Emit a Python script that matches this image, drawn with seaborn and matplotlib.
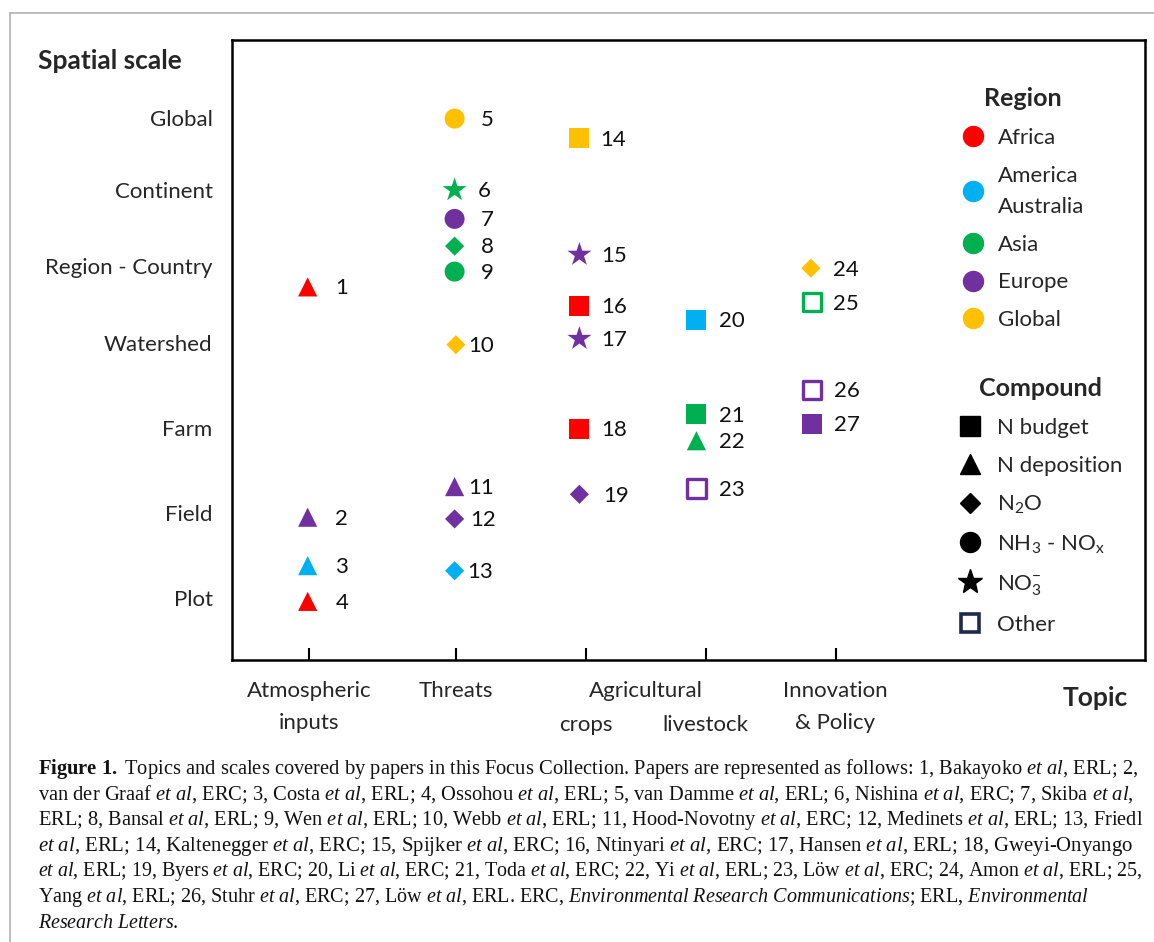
import re
import numpy as np
import pandas as pd
import matplotlib
matplotlib.use("Agg")
import matplotlib.pyplot as plt
import seaborn as sns
from matplotlib.lines import Line2D

sns.set_theme(style="white")
plt.rcParams["font.family"] = ["Lato", "DejaVu Sans"]
plt.rcParams["mathtext.fontset"] = "custom"
plt.rcParams["mathtext.rm"] = "Liberation Serif"
plt.rcParams["mathtext.it"] = "Liberation Serif:italic"
plt.rcParams["mathtext.bf"] = "Liberation Serif:bold"

# ---------------------------------------------------------------
# DATA
# ---------------------------------------------------------------
paper_id = list(range(1, 28))
topic_x = [0.99, 0.99, 0.99, 0.99,
           2.12, 2.12, 2.12, 2.12, 2.12, 2.13, 2.12, 2.12, 2.12,
           3.08, 3.08, 3.08, 3.08, 3.08, 3.08,
           3.98, 3.98, 3.98, 3.98,
           4.86, 4.87, 4.87, 4.87]
scale_y = [4.66, 1.95, 1.38, 0.96,
           6.64, 5.80, 5.46, 5.14, 4.84, 3.98, 2.31, 1.93, 1.32,
           6.41, 5.04, 4.44, 4.05, 2.99, 2.22,
           4.27, 3.16, 2.85, 2.29,
           4.88, 4.48, 3.45, 3.05]
region = ["Africa", "Europe", "America", "Africa",
          "Global", "Asia", "Europe", "Asia", "Asia", "Global", "Europe", "Europe", "America",
          "Global", "Europe", "Africa", "Europe", "Africa", "Europe",
          "America", "Asia", "Asia", "Europe",
          "Global", "Asia", "Europe", "Europe"]
compound = ["N deposition", "N deposition", "N deposition", "N deposition",
            "NH3-NOx", "NO3", "NH3-NOx", "N2O", "NH3-NOx", "N2O", "N deposition", "N2O", "N2O",
            "N budget", "NO3", "N budget", "NO3", "N budget", "N2O",
            "N budget", "N budget", "N deposition", "Other",
            "N2O", "Other", "Other", "N budget"]

topic_ticks = [1.0, 2.13, 3.13, 4.05, 5.05]
topic_labels = ["Atmospheric\ninputs", "Threats", "", "", "Innovation\n& Policy"]
topic_sublabels = {2: "crops", 3: "livestock"}
topic_group_label = "Agricultural"
scale_ticks = [1, 2, 3, 4, 4.9, 5.8, 6.65]
scale_labels = ["Plot", "Field", "Farm", "Watershed", "Region - Country", "Continent", "Global"]

region_names = ["Africa", "America", "Asia", "Europe", "Global"]
region_legend_labels = ["Africa", "America\nAustralia", "Asia", "Europe", "Global"]
region_colors = ["#FF0000", "#00B0F0", "#00B050", "#7030A0", "#FFC000"]
compound_names = ["N budget", "N deposition", "N2O", "NH3-NOx", "NO3", "Other"]
compound_labels = ["N budget", "N deposition", r"N$_\mathregular{2}$O",
                   r"NH$_\mathregular{3}$ - NO$_\mathregular{x}$",
                   r"NO$_\mathregular{3}^\mathregular{-}$", "Other"]

caption = [
    "**Figure 1.** Topics and scales covered by papers in this Focus Collection. Papers are represented as follows: 1, Bakayoko *et al*, ERL; 2,",
    "van der Graaf *et al*, ERC; 3, Costa *et al*, ERL; 4, Ossohou *et al*, ERL; 5, van Damme *et al*, ERL; 6, Nishina *et al*, ERC; 7, Skiba *et al*,",
    "ERL; 8, Bansal *et al*, ERL; 9, Wen *et al*, ERL; 10, Webb *et al*, ERL; 11, Hood-Novotny *et al*, ERC; 12, Medinets *et al*, ERL; 13, Friedl",
    "*et al*, ERL; 14, Kaltenegger *et al*, ERC; 15, Spijker *et al*, ERC; 16, Ntinyari *et al*, ERC; 17, Hansen *et al*, ERL; 18, Gweyi-Onyango",
    "*et al*, ERL; 19, Byers *et al*, ERC; 20, Li *et al*, ERC; 21, Toda *et al*, ERC; 22, Yi *et al*, ERL; 23, Löw *et al*, ERC; 24, Amon *et al*, ERL; 25,",
    "Yang *et al*, ERL; 26, Stuhr *et al*, ERC; 27, Löw *et al*, ERL. ERC, *Environmental Research Communications*; ERL, *Environmental*",
    "*Research Letters*.",
]
# right end of each caption line in the reference (pixels), None = ragged
caption_right = [1140, 1136, 1140, 1131, 1140, 1093, None]

# ---------------------------------------------------------------
# STYLE
# ---------------------------------------------------------------
palette = dict(zip(region_names, region_colors))
markers = {"N budget": "s", "N deposition": "^", "N2O": "D", "NH3-NOx": "o", "NO3": "*"}
areas = {"N budget": 207, "N deposition": 190, "N2O": 95, "NH3-NOx": 207, "NO3": 330}
# gap between marker and its number label (points)
label_gap = [20, 20, 20, 20,
             19, 17, 19, 19, 19, 9, 10, 11, 9,
             15, 16, 16, 16, 16, 17,
             16, 16, 16, 16,
             16, 15, 16, 16]

df = pd.DataFrame({"paper": paper_id, "topic": topic_x, "scale": scale_y,
                   "region": region, "compound": compound})

W, H = 1154, 942
fig = plt.figure(figsize=(W / 100, H / 100), dpi=100)
ax_l, ax_r, ax_t, ax_b = 232, 1145, 40, 660
ax = fig.add_axes([ax_l / W, 1 - ax_b / H, (ax_r - ax_l) / W, (ax_b - ax_t) / H])

filled = df[df["compound"] != "Other"]
sns.scatterplot(data=filled, x="topic", y="scale", hue="region", style="compound",
                size="compound", palette=palette, markers=markers, sizes=areas,
                linewidth=0, legend=False, ax=ax, zorder=3)

other = df[df["compound"] == "Other"]
sns.scatterplot(data=other, x="topic", y="scale", hue="region", palette=palette,
                marker="s", s=175, legend=False, ax=ax, zorder=3)
pts = ax.collections[-1]
pts.set_edgecolors(pts.get_facecolors())
pts.set_facecolors("white")
pts.set_linewidths(2.4)

for pid, x, y, gap in zip(df["paper"], df["topic"], df["scale"], label_gap):
    ax.annotate(str(pid), (x, y), xytext=(gap, -1), textcoords="offset points",
                ha="left", va="center", fontsize=16, color="#111111")

ax.set_xlim(0.408, 7.43)
ax.set_ylim(0.27, 7.565)
ax.set_xlabel("")
ax.set_ylabel("")
ax.set_xticks(topic_ticks)
ax.set_xticklabels(topic_labels, fontsize=16, linespacing=1.75)
ax.set_yticks(scale_ticks)
ax.set_yticklabels(scale_labels, fontsize=16)
ax.tick_params(axis="x", direction="in", length=9, width=1.5, color="black", pad=15,
               bottom=True)
ax.tick_params(axis="y", length=0, pad=14)
for sp in ax.spines.values():
    sp.set_color("black")
    sp.set_linewidth(1.8)

xax = ax.get_xaxis_transform()
ax.annotate(topic_group_label, ((topic_ticks[2] + topic_ticks[3]) / 2, 0), xycoords=xax,
            xytext=(0, -15), textcoords="offset points", fontsize=16, ha="center", va="top")
for i, lab in topic_sublabels.items():
    ax.annotate(lab, (topic_ticks[i], 0), xycoords=xax, xytext=(0, -39.5),
                textcoords="offset points", fontsize=16, ha="center", va="top")


def ax_frac(px, py):
    return ((px - ax_l) / (ax_r - ax_l), (ax_b - py) / (ax_b - ax_t))


region_handles = [Line2D([], [], marker="o", ls="", color=c, markersize=14.4)
                  for c in region_colors]
leg1 = ax.legend(region_handles, region_legend_labels, title="Region", loc="upper left",
                 bbox_to_anchor=ax_frac(951, 76), frameon=False, fontsize=16,
                 title_fontproperties={"weight": "bold", "size": 18},
                 handlelength=1.0, handletextpad=0.6, borderpad=0, labelspacing=0.8)
leg1.get_texts()[1].set_linespacing(1.7)
ax.add_artist(leg1)

cmp_handles = [Line2D([], [], marker=markers[c], ls="", color="black",
                      markersize=np.sqrt(areas[c])) for c in compound_names[:-1]]
cmp_handles.append(Line2D([], [], marker="s", ls="", markerfacecolor="white",
                          markeredgecolor="#1F2A4A", markeredgewidth=2.6, markersize=13))
leg2 = ax.legend(cmp_handles, compound_labels, title="Compound", loc="upper left",
                 bbox_to_anchor=ax_frac(948, 366), frameon=False, fontsize=16,
                 title_fontproperties={"weight": "bold", "size": 18},
                 handlelength=1.0, handletextpad=0.7, borderpad=0, labelspacing=0.8)

fig.text(38 / W, 1 - 61 / H, "Spatial scale", fontsize=19, weight="bold",
         ha="left", va="center")
fig.text(1095 / W, 1 - 698 / H, "Topic", fontsize=19, weight="bold",
         ha="center", va="center")

# outer frame of the figure panel
fig.add_artist(Line2D([10 / W, 1], [1 - 13 / H, 1 - 13 / H], transform=fig.transFigure,
                      color="#b0b0b0", lw=1.2))
fig.add_artist(Line2D([10 / W, 10 / W], [0, 1 - 13 / H], transform=fig.transFigure,
                      color="#b0b0b0", lw=1.2))


def to_mathtext(s):
    s = re.sub(r"\*\*(.+?)\*\*",
               lambda m: r"$\mathbf{" + m.group(1).replace(" ", r"\ ") + "}$", s)
    s = re.sub(r"\*(.+?)\*",
               lambda m: r"$\mathit{" + m.group(1).replace(" ", r"\ ") + "}$", s)
    return s


# caption: each line sized so that it ends where the printed line ends
renderer = fig.canvas.get_renderer()
base_size = 14.4
for i, (line, right) in enumerate(zip(caption, caption_right)):
    t = fig.text(38 / W, 1 - (769 + i * 25.7) / H, to_mathtext(line), fontsize=base_size,
                 family="Liberation Serif", ha="left", va="center", color="#111111")
    if right is not None:
        w = t.get_window_extent(renderer).width
        t.set_fontsize(base_size * (right - 38) / w)

fig.savefig("out.png", dpi=100)
